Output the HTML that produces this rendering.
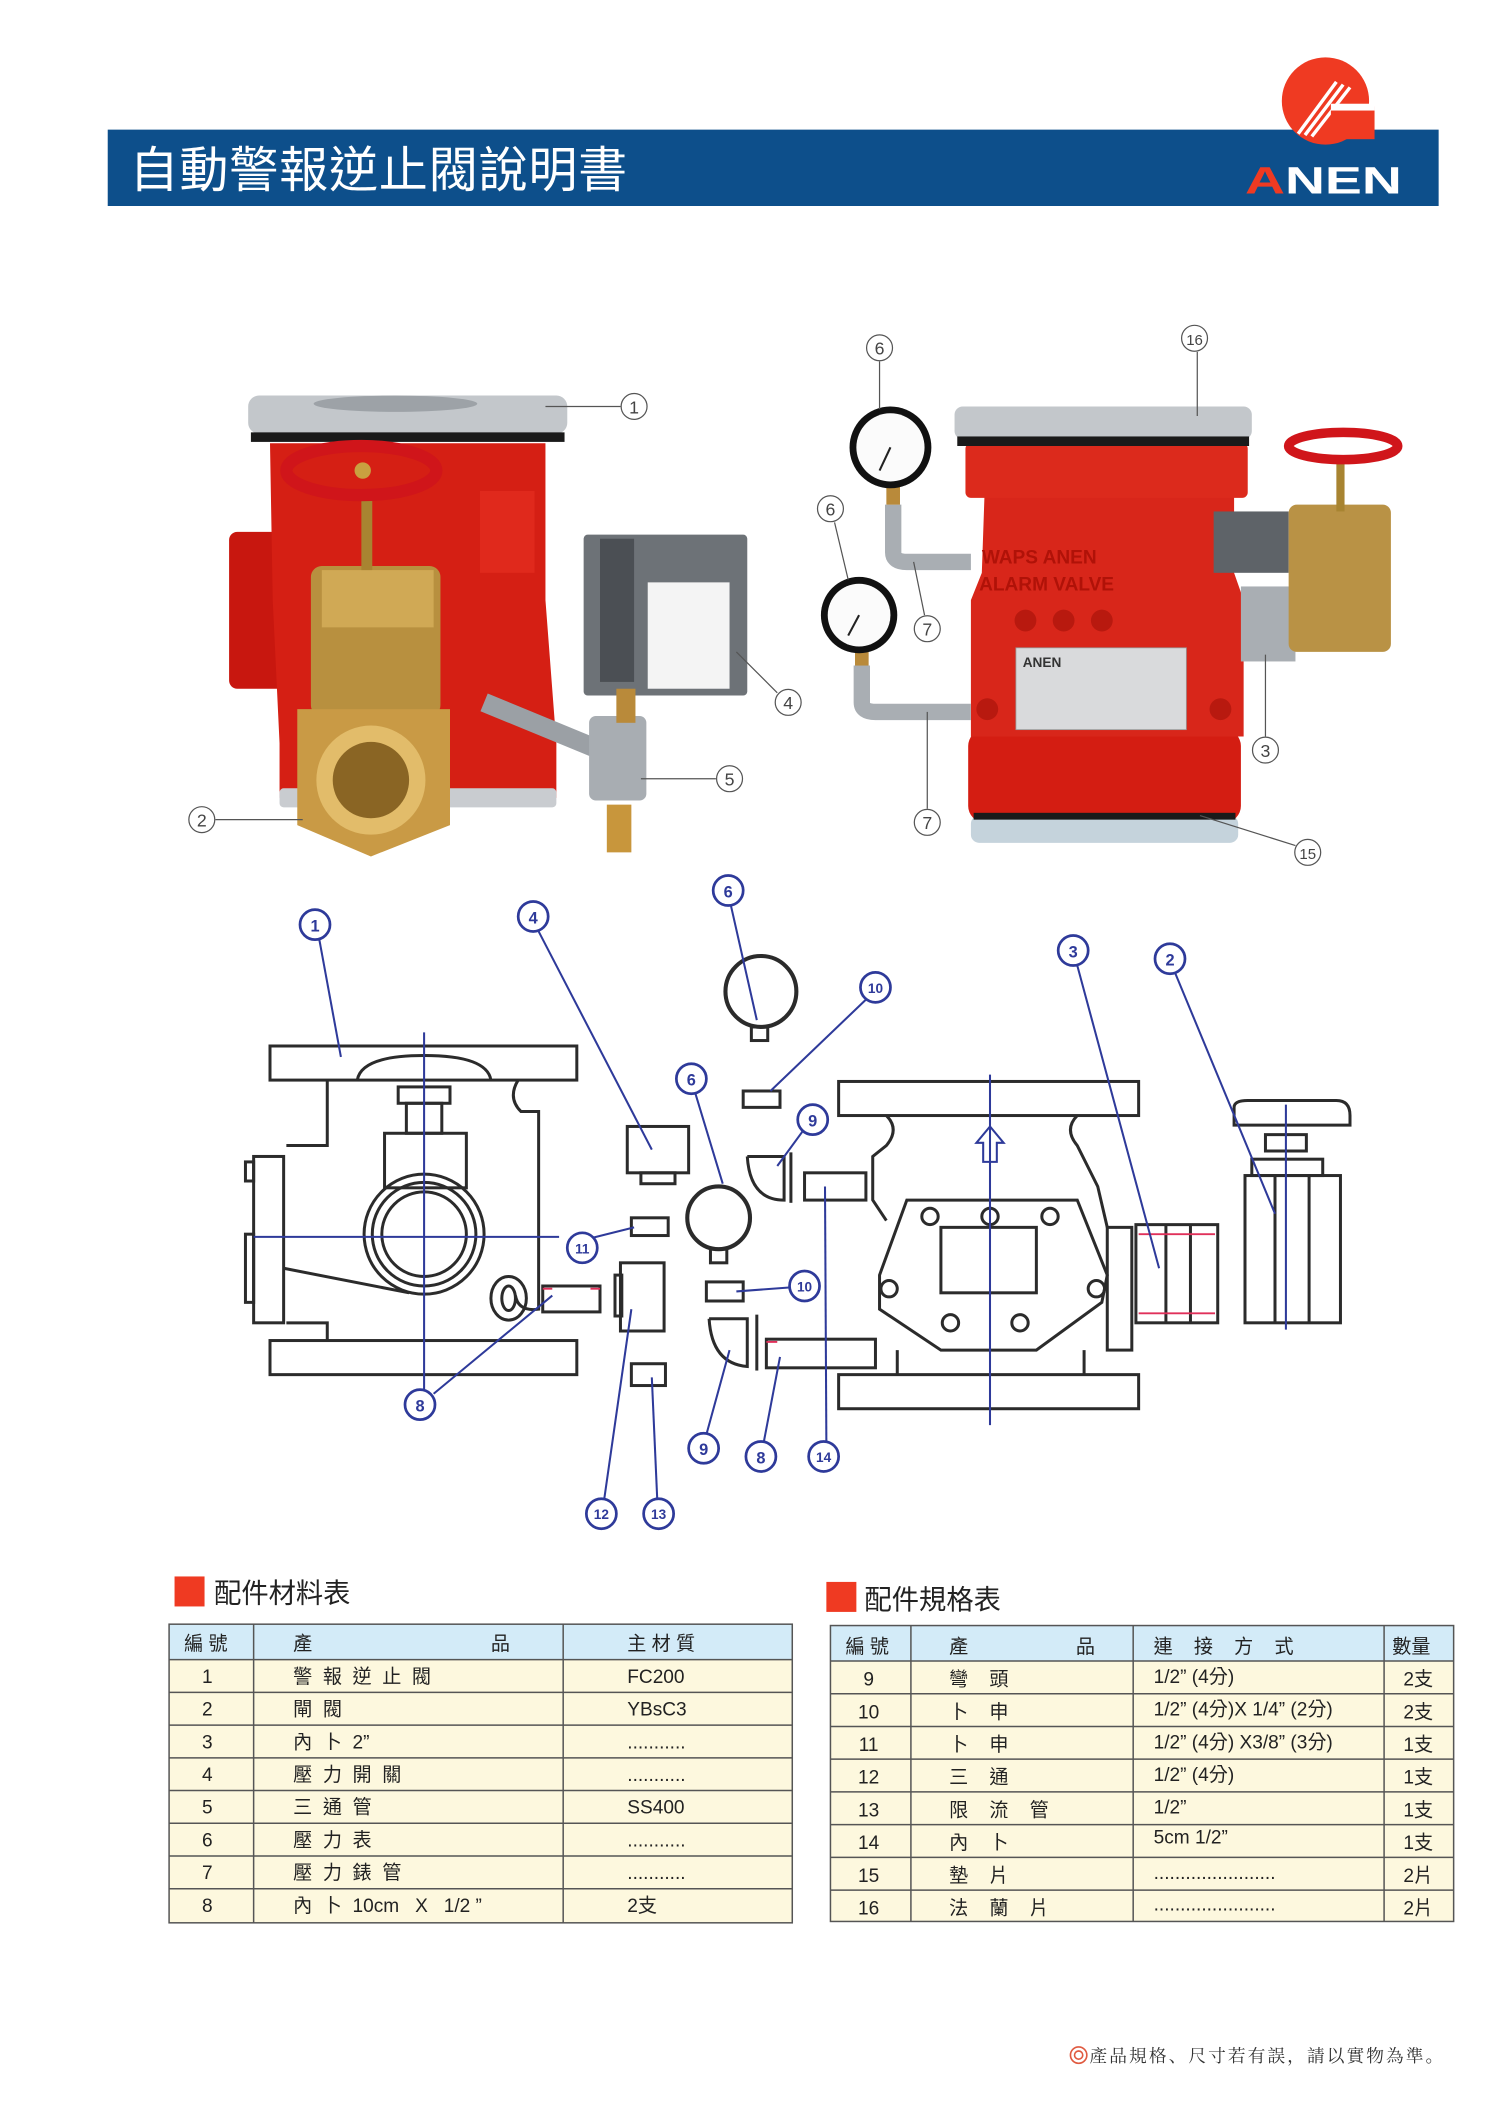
<!DOCTYPE html>
<html><head><meta charset="utf-8"><style>
html,body{margin:0;padding:0;background:#fff;}
svg{display:block;}
.cj{font-family:"Liberation Sans","Noto Sans CJK TC",sans-serif;}
</style></head><body>
<svg width="1500" height="2122" viewBox="0 0 1100 1556" xmlns="http://www.w3.org/2000/svg" class="cj">
<rect width="1100" height="1556" fill="#fff"/>
<!-- Header band -->
<rect x="79" y="95" width="976" height="56" fill="#0d4f8b"/>
<text x="95" y="137" font-size="36" fill="#fff" font-family="Noto Sans CJK TC,sans-serif" textLength="365">自動警報逆止閥說明書</text>
<!-- logo -->
<circle cx="972" cy="74" r="32" fill="#ef3a22"/>
<g stroke="#fff" stroke-width="2.5"><line x1="952" y1="98" x2="980" y2="60"/><line x1="957" y1="99" x2="985" y2="62"/><line x1="962" y1="100" x2="990" y2="64"/></g>
<rect x="976" y="78" width="32" height="24" fill="#ef3a22"/>
<rect x="976" y="76" width="32" height="5" fill="#fff"/>
<text x="913" y="142" font-size="28" font-weight="bold" fill="#fff" font-family="Liberation Sans,sans-serif" textLength="115" lengthAdjust="spacingAndGlyphs"><tspan fill="#ef3a22">A</tspan>NEN</text>

<!-- LEFT PHOTO -->
<g>
<rect x="168" y="390" width="62" height="115" rx="6" fill="#c8170f"/>
<path d="M198 325 L400 325 L400 440 L408 545 L408 585 L205 585 L205 545 L200 440 Z" fill="#d51f14"/>
<rect x="352" y="360" width="40" height="60" fill="#e0291c"/>
<rect x="205" y="578" width="203" height="14" rx="3" fill="#c9ccd0"/>
<rect x="182" y="290" width="234" height="28" rx="8" fill="#c3c7cb"/>
<ellipse cx="290" cy="296" rx="60" ry="6" fill="#9da2a7"/>
<rect x="184" y="317" width="230" height="7" fill="#1a1a1a"/>
<rect x="228" y="415" width="95" height="110" rx="8" fill="#b8903f"/>
<rect x="236" y="418" width="82" height="42" fill="#d0a955"/>
<path d="M218 520 L330 520 L330 605 L272 628 L218 605 Z" fill="#c99a45"/>
<circle cx="272" cy="572" r="40" fill="#e2bc6a"/>
<circle cx="272" cy="572" r="28" fill="#8a6524"/>
<rect x="265" y="360" width="8" height="58" fill="#a88431"/>
<ellipse cx="265" cy="345" rx="55" ry="18" fill="none" stroke="#d0151a" stroke-width="9"/>
<circle cx="266" cy="345" r="6" fill="#c9a040"/>
<rect x="428" y="392" width="120" height="118" rx="3" fill="#6d7277"/>
<rect x="440" y="395" width="25" height="105" fill="#4b4f54"/>
<rect x="475" y="427" width="60" height="78" fill="#f4f4f4"/>
<line x1="355" y1="515" x2="440" y2="550" stroke="#9ba0a5" stroke-width="14"/>
<rect x="432" y="525" width="42" height="62" rx="5" fill="#a8adb2"/>
<rect x="452" y="505" width="14" height="25" fill="#b98a3a"/>
<rect x="445" y="590" width="18" height="35" fill="#c8963c"/>
<g stroke="#555" stroke-width="0.9" fill="none">
<line x1="400" y1="298" x2="455" y2="298"/><circle cx="465" cy="298" r="9.5"/>
<line x1="158" y1="601" x2="222" y2="601"/><circle cx="148" cy="601" r="9.5"/>
<line x1="540" y1="478" x2="570" y2="508"/><circle cx="578" cy="515" r="9.5"/>
<line x1="470" y1="571" x2="525" y2="571"/><circle cx="535" cy="571" r="9.5"/>
</g>
<g font-size="13" fill="#444" text-anchor="middle" font-family="Liberation Sans,sans-serif">
<text x="465" y="303">1</text><text x="148" y="606">2</text><text x="578" y="520">4</text><text x="535" y="576">5</text></g>
</g>

<!-- RIGHT PHOTO -->
<g>
<rect x="710" y="535" width="200" height="68" rx="12" fill="#d41d12"/>
<rect x="712" y="598" width="196" height="20" rx="6" fill="#c5d3dc"/>
<rect x="714" y="596" width="192" height="5" fill="#1a1a1a"/>
<path d="M722 362 L905 362 L905 420 L912 440 L912 540 L712 540 L712 440 L720 420 Z" fill="#d8261a"/>
<rect x="708" y="325" width="207" height="40" rx="4" fill="#dc2a1c"/>
<rect x="700" y="298" width="218" height="24" rx="6" fill="#c3c7cb"/>
<rect x="702" y="320" width="214" height="7" fill="#1a1a1a"/>
<text x="720" y="413" font-size="14" fill="#b01208" font-family="Liberation Sans,sans-serif" font-weight="bold">WAPS ANEN</text>
<text x="718" y="433" font-size="14" fill="#b01208" font-family="Liberation Sans,sans-serif" font-weight="bold">ALARM VALVE</text>
<rect x="745" y="475" width="125" height="60" fill="#d9dadc" stroke="#999" stroke-width="0.6"/>
<text x="750" y="489" font-size="10" font-weight="bold" fill="#333" font-family="Liberation Sans,sans-serif">ANEN</text>
<g fill="#b8190f"><circle cx="752" cy="455" r="8"/><circle cx="780" cy="455" r="8"/><circle cx="808" cy="455" r="8"/><circle cx="724" cy="520" r="8"/><circle cx="895" cy="520" r="8"/></g>
<rect x="890" y="375" width="55" height="45" fill="#5e6368"/>
<rect x="910" y="430" width="40" height="55" fill="#a9aeb3"/>
<rect x="945" y="370" width="75" height="108" rx="6" fill="#b99245"/>
<rect x="980" y="335" width="6" height="40" fill="#a88431"/>
<ellipse cx="985" cy="327" rx="40" ry="10" fill="none" stroke="#d0151a" stroke-width="7"/>
<path d="M655 370 L655 405 Q655 412 665 412 L712 412" fill="none" stroke="#a9aeb3" stroke-width="12"/>
<path d="M632 488 L632 515 Q632 522 642 522 L712 522" fill="none" stroke="#a9aeb3" stroke-width="12"/>
<rect x="650" y="355" width="10" height="15" fill="#b98a3a"/>
<rect x="627" y="474" width="10" height="14" fill="#b98a3a"/>
<circle cx="653" cy="328" r="30" fill="#111"/><circle cx="653" cy="328" r="25" fill="#fbfbfb"/>
<circle cx="630" cy="451" r="28" fill="#111"/><circle cx="630" cy="451" r="23" fill="#fbfbfb"/>
<line x1="653" y1="328" x2="645" y2="345" stroke="#222" stroke-width="1.5"/>
<line x1="630" y1="451" x2="622" y2="466" stroke="#222" stroke-width="1.5"/>
<g stroke="#555" stroke-width="0.9" fill="none">
<line x1="878" y1="258" x2="878" y2="305"/><circle cx="876" cy="248" r="9.5"/>
<line x1="645" y1="265" x2="645" y2="300"/><circle cx="645" cy="255" r="9.5"/>
<line x1="612" y1="383" x2="622" y2="425"/><circle cx="609" cy="373" r="9.5"/>
<line x1="670" y1="412" x2="678" y2="451"/><circle cx="680" cy="461" r="9.5"/>
<line x1="680" y1="522" x2="680" y2="593"/><circle cx="680" cy="603" r="9.5"/>
<line x1="928" y1="480" x2="928" y2="540"/><circle cx="928" cy="550" r="9.5"/>
<line x1="880" y1="598" x2="950" y2="620"/><circle cx="959" cy="625" r="9.5"/>
</g>
<g font-size="13" fill="#444" text-anchor="middle" font-family="Liberation Sans,sans-serif">
<text x="876" y="253" font-size="11">16</text><text x="645" y="260">6</text><text x="609" y="378">6</text><text x="680" y="466">7</text><text x="680" y="608">7</text><text x="928" y="555">3</text><text x="959" y="630" font-size="11">15</text></g>
</g>

<!-- SCHEMATIC -->
<g fill="none" stroke="#2b2b2b" stroke-width="2.2">
<rect x="198" y="767" width="225" height="25"/>
<rect x="198" y="983" width="225" height="25"/>
<path d="M262 792 Q265 774 311 774 Q357 774 360 792"/>
<path d="M240 792 L240 840 L210 840 M210 970 L240 970 L240 983"/>
<rect x="186" y="848" width="22" height="122"/>
<rect x="180" y="852" width="6" height="14"/><rect x="180" y="905" width="6" height="50"/>
<path d="M380 792 Q372 805 382 815 L395 815 L395 960 Q380 962 378 950"/>
<path d="M208 930 Q260 940 300 948"/>
<rect x="292" y="797" width="38" height="12"/><rect x="298" y="809" width="26" height="22"/>
<rect x="282" y="831" width="60" height="40"/>
<circle cx="311" cy="905" r="44"/><circle cx="311" cy="905" r="38"/><circle cx="311" cy="905" r="31"/>
<ellipse cx="373" cy="952" rx="13" ry="16"/><ellipse cx="373" cy="952" rx="5" ry="9"/>
<rect x="460" y="826" width="45" height="34"/><rect x="470" y="860" width="25" height="8"/>
<rect x="463" y="893" width="27" height="13"/>
<rect x="455" y="926" width="32" height="50"/><rect x="451" y="935" width="5" height="30"/>
<rect x="463" y="1000" width="25" height="16"/>
<circle cx="558" cy="727" r="26" stroke-width="3"/><rect x="551" y="753" width="12" height="10"/>
<rect x="545" y="800" width="27" height="12"/>
<circle cx="527" cy="893" r="23" stroke-width="3"/><rect x="521" y="916" width="12" height="10"/>
<path d="M548 848 L575 848 L575 880 Q550 880 548 848"/><line x1="580" y1="845" x2="580" y2="882"/>
<rect x="590" y="860" width="45" height="20"/>
<rect x="518" y="940" width="27" height="14"/>
<path d="M520 967 L548 967 L548 1002 Q522 1000 520 967"/><line x1="555" y1="964" x2="555" y2="1005"/>
<rect x="562" y="982" width="80" height="21"/>
<rect x="398" y="943" width="42" height="19"/>
<rect x="615" y="793" width="220" height="25"/>
<rect x="615" y="1008" width="220" height="25"/>
<path d="M650 818 Q660 828 650 840 L640 848 L640 880 L650 895 M790 818 Q780 828 790 840 L805 870 L812 900"/>
<path d="M658 990 L658 1008 M795 990 L795 1008"/>
<path d="M665 880 L790 880 L812 935 L808 955 L760 990 L690 990 L645 960 L645 935 Z"/>
<rect x="690" y="900" width="70" height="48"/>
<circle cx="682" cy="892" r="6"/><circle cx="726" cy="892" r="6"/><circle cx="770" cy="892" r="6"/>
<circle cx="652" cy="945" r="6"/><circle cx="804" cy="945" r="6"/><circle cx="697" cy="970" r="6"/><circle cx="748" cy="970" r="6"/>
<rect x="812" y="900" width="18" height="90"/>
<rect x="833" y="898" width="60" height="72"/><line x1="855" y1="898" x2="855" y2="970"/><line x1="873" y1="898" x2="873" y2="970"/>
<path d="M905 825 L905 812 Q905 807 915 807 L980 807 Q990 807 990 818 L990 825 Z"/>
<rect x="928" y="832" width="30" height="12"/><rect x="918" y="850" width="52" height="12"/>
<rect x="913" y="862" width="70" height="108"/><line x1="935" y1="862" x2="935" y2="970"/><line x1="960" y1="862" x2="960" y2="970"/>
</g>
<g stroke="#e0305a" stroke-width="1.4">
<line x1="398" y1="945" x2="405" y2="945"/><line x1="433" y1="945" x2="440" y2="945"/>
<line x1="562" y1="984" x2="570" y2="984"/><line x1="835" y1="905" x2="891" y2="905"/><line x1="835" y1="963" x2="891" y2="963"/>
</g>
<g stroke="#2e3a9a" stroke-width="1.5" fill="none">
<line x1="311" y1="757" x2="311" y2="1025"/><line x1="186" y1="907" x2="410" y2="907"/>
<line x1="726" y1="788" x2="726" y2="1045"/><line x1="943" y1="810" x2="943" y2="975"/>
<path d="M721 852 L721 838 L716 838 L726 826 L736 838 L731 838 L731 852 Z"/>
<line x1="234" y1="688" x2="250" y2="775"/>
<line x1="395" y1="683" x2="478" y2="843"/>
<line x1="318" y1="1022" x2="405" y2="950"/>
<line x1="536" y1="664" x2="555" y2="748"/>
<line x1="635" y1="733" x2="565" y2="800"/>
<line x1="510" y1="802" x2="530" y2="868"/>
<line x1="589" y1="829" x2="570" y2="855"/>
<line x1="606" y1="1058" x2="605" y2="870"/>
<line x1="580" y1="944" x2="540" y2="947"/>
<line x1="518" y1="1052" x2="535" y2="990"/>
<line x1="560" y1="1058" x2="572" y2="995"/>
<line x1="443" y1="1100" x2="463" y2="960"/>
<line x1="482" y1="1100" x2="478" y2="1010"/>
<line x1="417" y1="912" x2="465" y2="900"/>
<line x1="790" y1="708" x2="850" y2="930"/>
<line x1="862" y1="714" x2="935" y2="890"/>
</g>
<g stroke="#2e3a9a" stroke-width="2" fill="#fff">
<circle cx="231" cy="678" r="11"/><circle cx="391" cy="672" r="11"/><circle cx="308" cy="1030" r="11"/>
<circle cx="534" cy="653" r="11"/><circle cx="642" cy="724" r="11"/><circle cx="507" cy="791" r="11"/>
<circle cx="596" cy="821" r="11"/><circle cx="427" cy="915" r="11"/><circle cx="590" cy="943" r="11"/>
<circle cx="516" cy="1062" r="11"/><circle cx="558" cy="1068" r="11"/><circle cx="604" cy="1068" r="11"/>
<circle cx="441" cy="1110" r="11"/><circle cx="483" cy="1110" r="11"/><circle cx="787" cy="697" r="11"/><circle cx="858" cy="703" r="11"/>
</g>
<g fill="#2e3a9a" font-size="12" font-weight="bold" text-anchor="middle" font-family="Liberation Sans,sans-serif">
<text x="231" y="683">1</text><text x="391" y="677">4</text><text x="308" y="1035">8</text><text x="534" y="658">6</text>
<text x="642" y="728" font-size="10">10</text><text x="507" y="796">6</text><text x="596" y="826">9</text><text x="427" y="919" font-size="10">11</text>
<text x="590" y="947" font-size="10">10</text><text x="516" y="1067">9</text><text x="558" y="1073">8</text><text x="604" y="1072" font-size="10">14</text>
<text x="441" y="1114" font-size="10">12</text><text x="483" y="1114" font-size="10">13</text><text x="787" y="702">3</text><text x="858" y="708">2</text>
</g>

<!-- TABLE HEADINGS -->
<rect x="128" y="1156" width="22" height="22" fill="#ef3a22"/>
<text x="157" y="1175" font-size="20" fill="#222">配件材料表</text>
<rect x="606" y="1160" width="22" height="22" fill="#ef3a22"/>
<text x="634" y="1180" font-size="20" fill="#222">配件規格表</text>

<!-- LEFT TABLE -->
<rect x="124" y="1191" width="457" height="26" fill="#d3ebf8"/>
<rect x="124" y="1217" width="457" height="193" fill="#fdf8de"/>
<g stroke="#555" stroke-width="1.1" fill="none">
<rect x="124" y="1191" width="457" height="219"/>
<line x1="186" y1="1191" x2="186" y2="1410"/><line x1="413" y1="1191" x2="413" y2="1410"/>
<line x1="124" y1="1217" x2="581" y2="1217"/><line x1="124" y1="1241" x2="581" y2="1241"/><line x1="124" y1="1265" x2="581" y2="1265"/><line x1="124" y1="1289" x2="581" y2="1289"/><line x1="124" y1="1313" x2="581" y2="1313"/><line x1="124" y1="1337" x2="581" y2="1337"/><line x1="124" y1="1361" x2="581" y2="1361"/><line x1="124" y1="1385" x2="581" y2="1385"/>
</g>
<g font-size="14" fill="#222">
<text x="135" y="1210">編 號</text><text x="215" y="1210">產</text><text x="360" y="1210">品</text><text x="460" y="1210">主 材 質</text>
<g text-anchor="middle"><text x="152" y="1234">1</text><text x="152" y="1258">2</text><text x="152" y="1282">3</text><text x="152" y="1306">4</text><text x="152" y="1330">5</text><text x="152" y="1354">6</text><text x="152" y="1378">7</text><text x="152" y="1402">8</text></g>
<text x="215" y="1234" xml:space="preserve">警  報  逆  止  閥</text>
<text x="215" y="1258" xml:space="preserve">閘  閥</text>
<text x="215" y="1282" xml:space="preserve">內  卜  2”</text>
<text x="215" y="1306" xml:space="preserve">壓  力  開  關</text>
<text x="215" y="1330" xml:space="preserve">三  通  管</text>
<text x="215" y="1354" xml:space="preserve">壓  力  表</text>
<text x="215" y="1378" xml:space="preserve">壓  力  錶  管</text>
<text x="215" y="1402" xml:space="preserve">內  卜  10cm   X   1/2 ”</text>
<text x="460" y="1234">FC200</text><text x="460" y="1258">YBsC3</text><text x="460" y="1282">...........</text><text x="460" y="1306">...........</text><text x="460" y="1330">SS400</text><text x="460" y="1354">...........</text><text x="460" y="1378">...........</text><text x="460" y="1402">2支</text>
</g>

<!-- RIGHT TABLE -->
<rect x="609" y="1192" width="457" height="26" fill="#d3ebf8"/>
<rect x="609" y="1218" width="457" height="191" fill="#fdf8de"/>
<g stroke="#555" stroke-width="1.1" fill="none">
<rect x="609" y="1192" width="457" height="217"/>
<line x1="668" y1="1192" x2="668" y2="1409"/><line x1="831" y1="1192" x2="831" y2="1409"/><line x1="1015" y1="1192" x2="1015" y2="1409"/>
<line x1="609" y1="1218" x2="1066" y2="1218"/><line x1="609" y1="1242" x2="1066" y2="1242"/><line x1="609" y1="1266" x2="1066" y2="1266"/><line x1="609" y1="1290" x2="1066" y2="1290"/><line x1="609" y1="1314" x2="1066" y2="1314"/><line x1="609" y1="1338" x2="1066" y2="1338"/><line x1="609" y1="1362" x2="1066" y2="1362"/><line x1="609" y1="1386" x2="1066" y2="1386"/>
</g>
<g font-size="14" fill="#222">
<text x="620" y="1212">編 號</text><text x="696" y="1212">產</text><text x="789" y="1212">品</text><text x="846" y="1212" xml:space="preserve">連    接    方    式</text><text x="1021" y="1212">數量</text>
<g text-anchor="middle"><text x="637" y="1236">9</text><text x="637" y="1260">10</text><text x="637" y="1284">11</text><text x="637" y="1308">12</text><text x="637" y="1332">13</text><text x="637" y="1356">14</text><text x="637" y="1380">15</text><text x="637" y="1404">16</text>
<text x="1040" y="1236">2支</text><text x="1040" y="1260">2支</text><text x="1040" y="1284">1支</text><text x="1040" y="1308">1支</text><text x="1040" y="1332">1支</text><text x="1040" y="1356">1支</text><text x="1040" y="1380">2片</text><text x="1040" y="1404">2片</text></g>
<text x="696" y="1236" xml:space="preserve">彎    頭</text>
<text x="696" y="1260" xml:space="preserve">卜    申</text>
<text x="696" y="1284" xml:space="preserve">卜    申</text>
<text x="696" y="1308" xml:space="preserve">三    通</text>
<text x="696" y="1332" xml:space="preserve">限    流    管</text>
<text x="696" y="1356" xml:space="preserve">內    卜</text>
<text x="696" y="1380" xml:space="preserve">墊    片</text>
<text x="696" y="1404" xml:space="preserve">法    蘭    片</text>
<text x="846" y="1234">1/2” (4分)</text>
<text x="846" y="1258">1/2” (4分)X 1/4” (2分)</text>
<text x="846" y="1282">1/2” (4分) X3/8” (3分)</text>
<text x="846" y="1306">1/2” (4分)</text>
<text x="846" y="1330">1/2”</text>
<text x="846" y="1352">5cm 1/2”</text>
<text x="846" y="1378">.......................</text>
<text x="846" y="1401">.......................</text>
</g>

<!-- footer -->
<circle cx="791" cy="1507" r="6" fill="none" stroke="#e05a40" stroke-width="1.2"/><circle cx="791" cy="1507" r="3" fill="none" stroke="#e05a40" stroke-width="1.2"/>
<text x="799" y="1512" font-size="13" fill="#333" font-family="Noto Serif CJK SC,serif" letter-spacing="1.5">產品規格、尺寸若有誤，請以實物為準。</text>
</svg>
</body></html>
